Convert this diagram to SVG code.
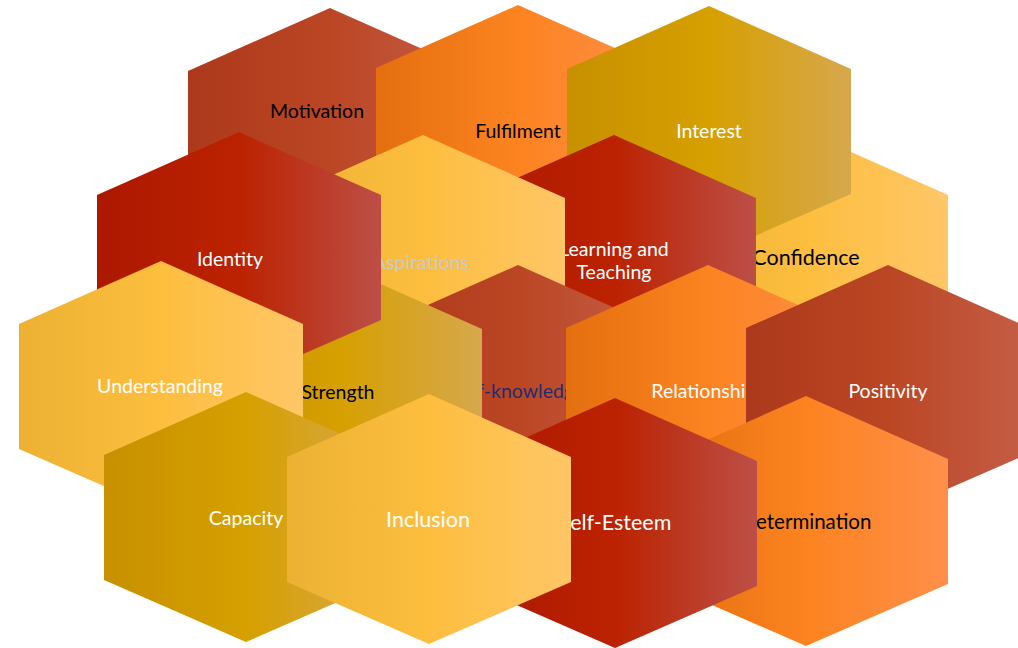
<svg xmlns="http://www.w3.org/2000/svg" width="1018" height="648" viewBox="0 0 1018 648">
<style>
text{font-family:Lato,"Open Sans","Liberation Sans",sans-serif;font-size:19.5px;text-anchor:middle;dominant-baseline:central}
.big{font-size:21.5px}
.mid{font-size:20.5px}
.w{fill:#FFFFFF}.k{fill:#000000}.g{fill:#C9C9C9}.n{fill:#1F2E6E}
</style>
<defs>
<path id="hex" d="M0,-125 L142,-62 L142,63 L0,125 L-142,63 L-142,-62 Z"/>
<linearGradient id="rust" x1="0" y1="0" x2="1" y2="0"><stop offset="0" stop-color="#AC391B"/><stop offset="0.5" stop-color="#BB4624"/><stop offset="1" stop-color="#C45E47"/></linearGradient>
<linearGradient id="orange" x1="0" y1="0" x2="1" y2="0"><stop offset="0" stop-color="#E46F0E"/><stop offset="0.5" stop-color="#FC8320"/><stop offset="1" stop-color="#FF8F4A"/></linearGradient>
<linearGradient id="gold" x1="0" y1="0" x2="1" y2="0"><stop offset="0" stop-color="#C79000"/><stop offset="0.5" stop-color="#D6A000"/><stop offset="1" stop-color="#D6A84D"/></linearGradient>
<linearGradient id="yellow" x1="0" y1="0" x2="1" y2="0"><stop offset="0" stop-color="#ECB133"/><stop offset="0.5" stop-color="#FDBE3E"/><stop offset="1" stop-color="#FFC667"/></linearGradient>
<linearGradient id="red" x1="0" y1="0" x2="1" y2="0"><stop offset="0" stop-color="#AC1800"/><stop offset="0.5" stop-color="#BB2200"/><stop offset="1" stop-color="#BD4F47"/></linearGradient>
</defs>
<g id="connectors"/>
<g id="motivation"><use href="#hex" x="330" y="133" fill="url(#rust)"/><text x="317" y="110" class="k">Motivation</text></g>
<g id="fulfilment"><use href="#hex" x="518" y="130" fill="url(#orange)"/><text x="518" y="130" class="k">Fulfilment</text></g>
<g id="confidence"><use href="#hex" x="806" y="257" fill="url(#yellow)"/><text x="806" y="257" class="k big">Confidence</text></g>
<g id="interest"><use href="#hex" x="709" y="131" fill="url(#gold)"/><text x="709" y="130" class="w">Interest</text></g>
<g id="learning"><use href="#hex" x="614" y="260" fill="url(#red)"/><text x="614" y="248" class="w">Learning and</text><text x="614" y="271" class="w">Teaching</text></g>
<g id="aspirations"><use href="#hex" x="423" y="260" fill="url(#yellow)"/><text x="421" y="261" class="g">Aspirations</text></g>
<g id="self-knowledge"><use href="#hex" x="518" y="390" fill="url(#rust)"/><text x="518" y="390" class="n">Self-knowledge</text></g>
<g id="strength"><use href="#hex" x="340" y="391" fill="url(#gold)"/><text x="338" y="391" class="k">Strength</text></g>
<g id="identity"><use href="#hex" x="239" y="257" fill="url(#red)"/><text x="230" y="258" class="w">Identity</text></g>
<g id="understanding"><use href="#hex" x="161" y="386" fill="url(#yellow)"/><text x="160" y="385" class="w">Understanding</text></g>
<g id="relationships"><use href="#hex" x="708" y="390" fill="url(#orange)"/><text x="708" y="390" class="w">Relationships</text></g>
<g id="positivity"><use href="#hex" x="888" y="390" fill="url(#rust)"/><text x="888" y="390" class="w">Positivity</text></g>
<g id="capacity"><use href="#hex" x="246" y="517" fill="url(#gold)"/><text x="246" y="517" class="w">Capacity</text></g>
<g id="determination"><use href="#hex" x="806" y="521" fill="url(#orange)"/><text x="806" y="521" class="k mid">Determination</text></g>
<g id="self-esteem"><use href="#hex" x="615" y="523" fill="url(#red)"/><text x="615" y="522" class="w big">Self-Esteem</text></g>
<g id="inclusion"><use href="#hex" x="429" y="519" fill="url(#yellow)"/><text x="428" y="519" class="w big">Inclusion</text></g>
</svg>
